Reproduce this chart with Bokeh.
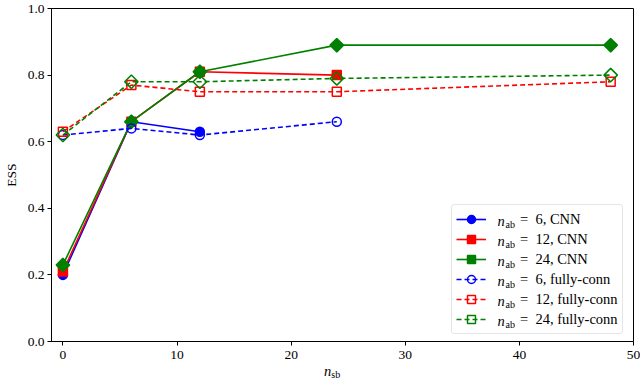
import numpy as np
from bokeh.plotting import figure
from bokeh.layouts import column
from bokeh.models import Range1d, FixedTicker, PrintfTickFormatter, Legend, LegendItem, Label, Div
from bokeh.embed import file_html
from bokeh.resources import INLINE

# ---- data ----
x_cnn6 = [0, 6, 12]
ess_cnn6 = [0.20, 0.66, 0.63]
x_cnn12 = [0, 6, 12, 24]
ess_cnn12 = [0.21, 0.66, 0.81, 0.80]
x_cnn24 = [0, 6, 12, 24, 48]
ess_cnn24 = [0.23, 0.66, 0.81, 0.89, 0.89]
x_fc6 = [0, 6, 12, 24]
ess_fc6 = [0.62, 0.64, 0.62, 0.66]
x_fc12 = [0, 6, 12, 24, 48]
ess_fc12 = [0.63, 0.77, 0.75, 0.75, 0.78]
x_fc24 = [0, 6, 12, 24, 48]
ess_fc24 = [0.62, 0.78, 0.78, 0.79, 0.80]
x_ticks = [0, 10, 20, 30, 40, 50]
y_ticks = [0.0, 0.2, 0.4, 0.6, 0.8, 1.0]
n_ab_values = [6, 12, 24, 6, 12, 24]
arch_names = ["CNN", "CNN", "CNN", "fully-conn", "fully-conn", "fully-conn"]

FONT = "Liberation Serif"
FS = "13.5px"
LFS = "14.5px"

p = figure(width=640, height=364, output_backend="svg", toolbar_location=None,
           x_range=Range1d(-1, 50), y_range=Range1d(0, 1.0),
           min_border_left=47, min_border_right=7, min_border_top=8, min_border_bottom=23)
p.background_fill_color = "white"
p.border_fill_color = "white"
p.border_fill_alpha = 0
p.outline_line_color = "black"
p.outline_line_width = 1
p.xgrid.visible = False
p.ygrid.visible = False

for ax in (p.xaxis[0], p.yaxis[0]):
    ax.axis_line_color = "black"
    ax.axis_line_width = 1
    ax.major_tick_out = 4
    ax.major_tick_in = 0
    ax.minor_tick_out = 0
    ax.minor_tick_in = 0
    ax.major_tick_line_width = 1
    ax.major_label_text_font = FONT
    ax.major_label_text_font_size = FS
    ax.major_label_text_color = "black"

p.xaxis.major_label_standoff = 5
p.yaxis.major_label_standoff = 3
p.xaxis.ticker = FixedTicker(ticks=x_ticks)
p.yaxis.ticker = FixedTicker(ticks=y_ticks)
p.yaxis.formatter = PrintfTickFormatter(format="%.1f")
p.yaxis.axis_label = "ESS"
p.yaxis.axis_label_text_font = FONT
p.yaxis.axis_label_text_font_size = FS
p.yaxis.axis_label_text_font_style = "normal"
p.yaxis.axis_label_text_color = "black"
p.yaxis.axis_label_standoff = 6

series = [
    (x_cnn6, ess_cnn6, "blue", "solid", "circle", True),
    (x_cnn12, ess_cnn12, "red", "solid", "square", True),
    (x_cnn24, ess_cnn24, "green", "solid", "diamond", True),
    (x_fc6, ess_fc6, "blue", "5 3", "circle", False),
    (x_fc12, ess_fc12, "red", "5 3", "square", False),
    (x_fc24, ess_fc24, "green", "5 3", "diamond", False),
]

items = []
for i, (xs, ys, col, dash, mk, filled) in enumerate(series):
    lr = p.line(xs, ys, line_color=col, line_width=1.6, line_dash=dash)
    if mk == "diamond":
        kw = dict(marker="square", angle=np.pi / 4, size=9.5)
    elif mk == "square":
        kw = dict(marker="square", size=9)
    else:
        kw = dict(marker="circle", size=9)
    sr = p.scatter(xs, ys, line_color=col, line_width=1.5,
                   fill_color=col if filled else None, **kw)
    items.append(LegendItem(label="=  %d, %s" % (n_ab_values[i], arch_names[i]),
                            renderers=[lr, sr]))

LEG_X, LEG_Y = 400, 7
PAD, ROW = 4, 20
legend = Legend(items=items, location=(LEG_X, LEG_Y), padding=PAD, spacing=0,
                glyph_width=30, glyph_height=ROW, label_height=ROW, label_standoff=34,
                label_text_font=FONT, label_text_font_size=LFS, label_text_color="black",
                border_line_color="#cccccc", border_line_width=1,
                background_fill_color="white", background_fill_alpha=0, margin=0)
try:
    legend.border_radius = 3
except Exception:
    pass
p.add_layout(legend)

leg_top = LEG_Y + 2 * PAD + ROW * len(items)
for i in range(len(items)):
    yc = leg_top - PAD - ROW / 2 - ROW * i
    xn = LEG_X + 5 + 30 + 11
    p.add_layout(Label(x=xn, y=yc, x_units="screen", y_units="screen", text="n",
                       text_font=FONT, text_font_size=LFS, text_font_style="italic",
                       text_color="black",
                       text_baseline="middle", text_align="left"))
    p.add_layout(Label(x=xn + 8, y=yc - 3.5, x_units="screen", y_units="screen", text="ab",
                       text_font=FONT, text_font_size="10px", text_color="black",
                       text_baseline="middle", text_align="left"))

# x-axis label n_sb (HTML text below the plot)
xlabel = Div(
    text=('<div style="padding-left:324px; font-family:\'Liberation Serif\'; '
          'font-size:14.5px; line-height:14px; color:black; white-space:nowrap;">'
          '<i>n</i><span style="font-size:10px; position:relative; top:2px;">sb</span></div>'),
    width=640, height=17, margin=(0, 0, 0, 0))

layout = column(p, xlabel, spacing=0)
open("out.html", "w").write(file_html(layout, INLINE))
